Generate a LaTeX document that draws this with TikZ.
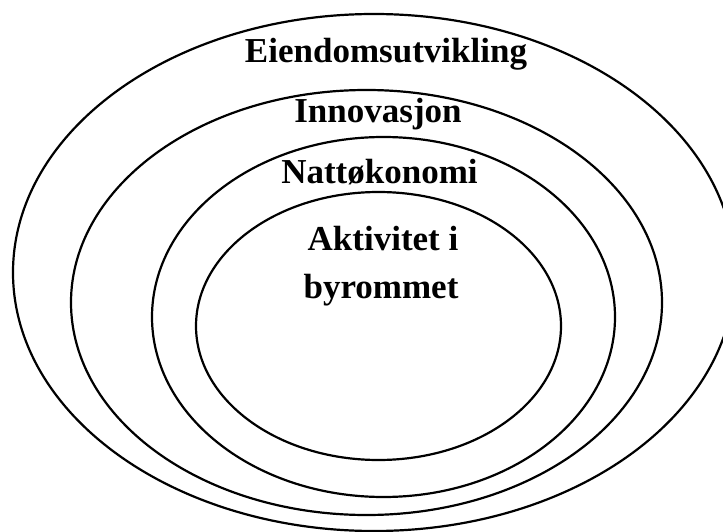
\documentclass[tikz,border=0pt]{standalone}
\usepackage{fontspec}
\setmainfont{Liberation Serif}
\tikzset{
  ring/.style={draw=black, line width=2.2pt},
  lbl/.style={anchor=base, inner sep=0pt, font=\fontsize{35}{40}\selectfont\bfseries}
}
\begin{document}
\begin{tikzpicture}[x=1pt,y=-1pt]
\useasboundingbox (0,0) rectangle (723,532);
\clip (0,0) rectangle (723,532);
\fill[white] (0,0) rectangle (723,532);
\draw[ring] (374,272.5) ellipse [x radius=361pt, y radius=258.5pt];
\draw[ring] (366.5,302.5) ellipse [x radius=295.5pt, y radius=212.5pt];
\draw[ring] (383.5,317) ellipse [x radius=231.5pt, y radius=180pt];
\draw[ring] (378.5,326) ellipse [x radius=182.5pt, y radius=134pt];
\node[lbl] (eien) at (386,63) {Eiendomsutvikling};
\node[lbl] (innov) at (378,123) {Innovasjon};
\node[lbl] (natt) at (379.5,183) {Nattøkonomi};
\node[lbl] (akt) at (383,250) {Aktivitet i};
\node[lbl] (byr) at (381,298) {byrommet};
\end{tikzpicture}
\end{document}
